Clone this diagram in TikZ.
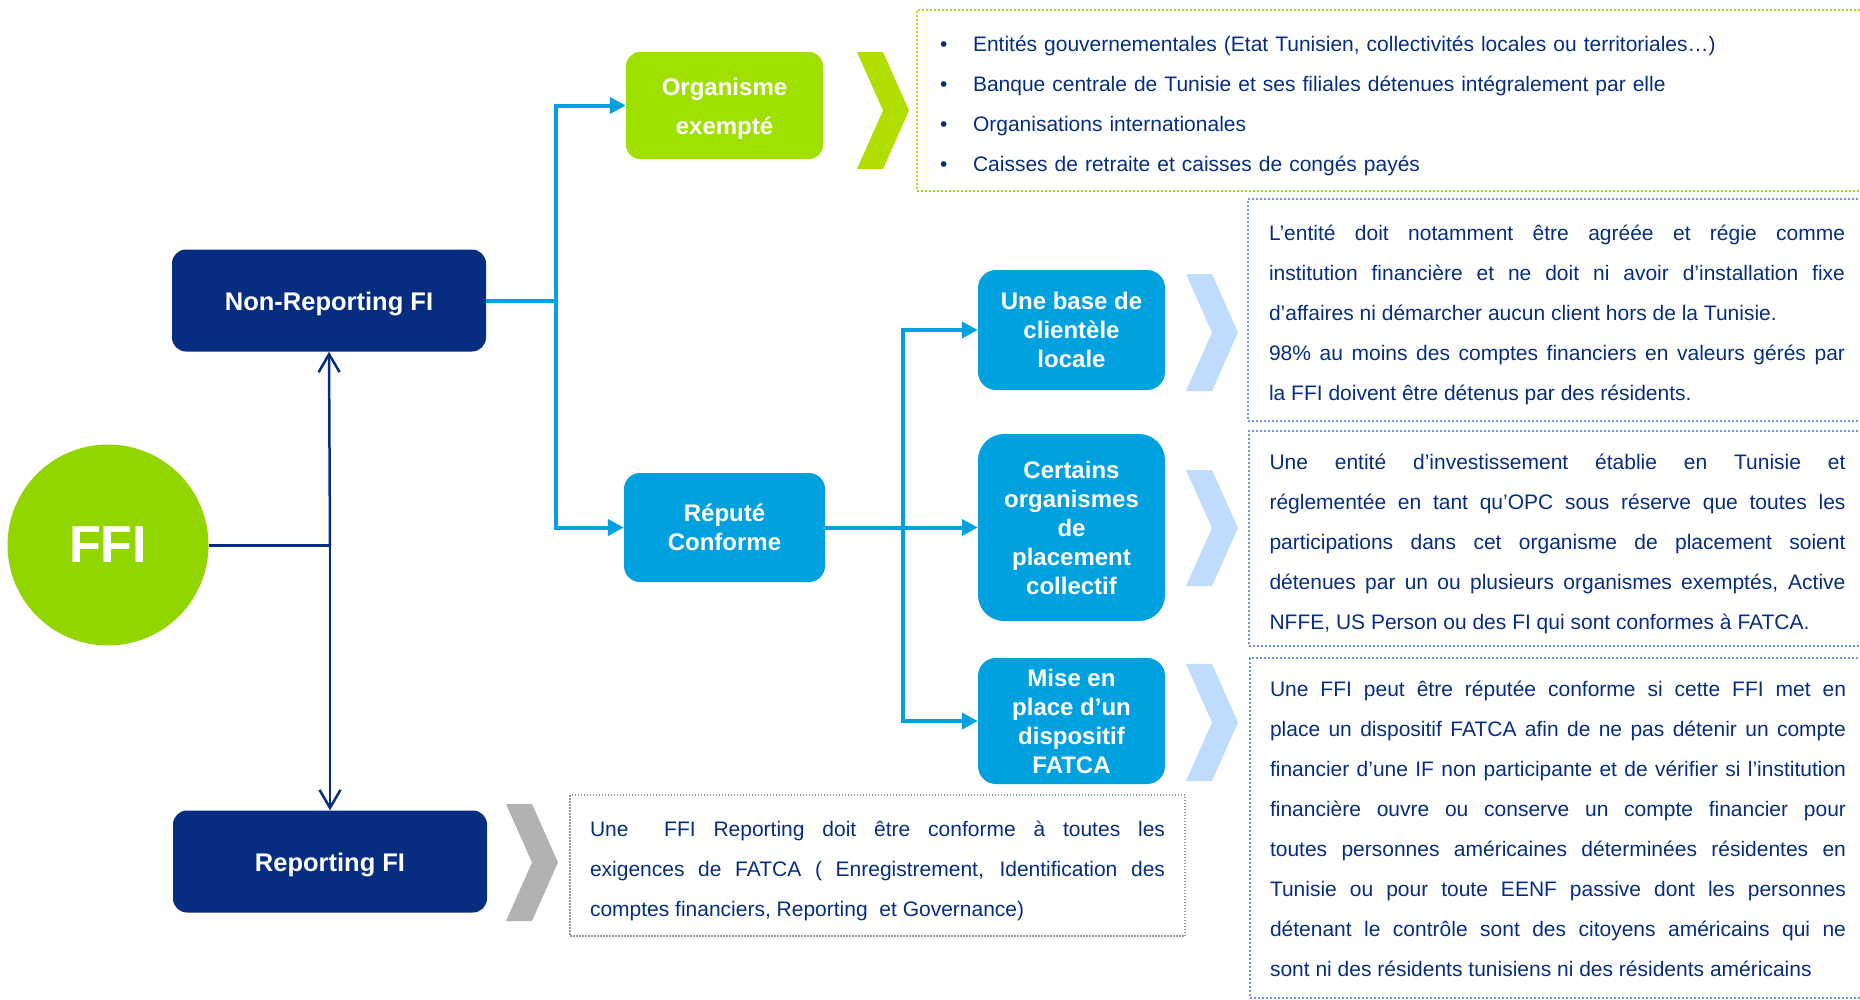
\documentclass[tikz,border=0pt]{standalone}
\usepackage{fontspec}
\setmainfont{Liberation Sans}
\usepackage{tikz}
\usetikzlibrary{arrows.meta}
\definecolor{navy}{RGB}{6,45,127}
\definecolor{ffigreen}{RGB}{146,213,0}
\definecolor{lime}{RGB}{160,224,0}
\definecolor{chevlime}{RGB}{176,222,0}
\definecolor{sky}{RGB}{0,161,222}
\definecolor{paleblue}{RGB}{191,219,254}
\definecolor{dotblue}{RGB}{102,150,238}
\tikzstyle{fi} = [rectangle, rounded corners=14pt, minimum width=314pt, minimum height=102pt, inner sep=0pt, fill=navy, text=white, font=\fontsize{25.5}{30}\selectfont\bfseries, execute at begin node={\rule{0pt}{25pt}}]
\tikzstyle{choice} = [rectangle, rounded corners=18pt, minimum width=187pt, inner sep=0pt, align=center, fill=sky, text=white, font=\fontsize{24}{29}\selectfont\bfseries]
\tikzstyle{note} = [rectangle, inner sep=0pt, text=navy, font=\fontsize{21}{40}\selectfont, align=justify, text width=576pt, execute at begin node={\rule{0pt}{26pt}}]
\tikzstyle{arrow} = [line width=4pt, sky, -{Triangle[length=16pt,width=16pt]}]
\tikzstyle{navyarrow} = [line width=2.5pt, navy, -{Straight Barb[length=18pt,width=21pt]}]
\tikzstyle{navyline} = [line width=3pt, navy]
\tikzstyle{skyline} = [line width=4pt, sky]
% chevron: left x, top y, bottom y, colour
\newcommand{\chevron}[4]{%
  \pgfmathsetmacro\chmid{(#2+#3)/2}
  \fill[#4] (#1,#2) -- (#1+26,#2) -- (#1+52,\chmid) -- (#1+26,#3) -- (#1,#3) -- (#1+26,\chmid) -- cycle;}
\hyphenpenalty=10000
\begin{document}
\begin{tikzpicture}[x=1pt, y=-1pt]
	\useasboundingbox (0,0) rectangle (1860,999);
	\clip (0,0) rectangle (1860,999);
	% left part
	\node (ffi) [circle, minimum size=201pt, inner sep=0pt, fill=ffigreen, text=white, font=\fontsize{52}{52}\selectfont\bfseries] at (108,545) {FFI};
	\node (nonrep) [fi] at (329,300.5) {Non-Reporting FI};
	\node (rep) [fi] at (330,861.5) {Reporting FI};
	\node (exempt) [choice, minimum width=197pt, minimum height=107pt, rounded corners=14pt, fill=lime, font=\fontsize{24}{39}\selectfont\bfseries] at (724.5,105.5) {\rule{0pt}{24pt}Organisme\\exempté};
	\node (repute) [choice, minimum width=201pt, minimum height=109pt, rounded corners=16pt] at (724.5,527.5) {Réputé\\Conforme};
	% deemed-compliant cases
	\node (locale) [choice, minimum height=120pt] at (1071.5,330) {Une base de\\clientèle\\locale};
	\node (opc) [choice, minimum height=187pt, rounded corners=26pt] at (1071.5,527.5) {Certains\\organismes\\de\\placement\\collectif};
	\node (fatca) [choice, minimum height=126pt] at (1071.5,721) {Mise en\\place d’un\\dispositif\\FATCA};
	% chevrons
	\chevron{857}{52}{169}{chevlime}
	\chevron{1186}{274}{391}{paleblue}
	\chevron{1186}{470}{586}{paleblue}
	\chevron{1186}{664}{781}{paleblue}
	\chevron{506}{804}{921}{black!30}
	% explanations
	\node (exlist) [note, draw=lime, line width=2pt, dash pattern=on 2pt off 2pt, minimum width=949pt, minimum height=181pt, text width=903pt, align=left] at (1391.5,100.5) {%
		\makebox[33pt][l]{•}Entités gouvernementales (Etat Tunisien, collectivités locales ou territoriales…)\\
		\makebox[33pt][l]{•}Banque centrale de Tunisie et ses filiales détenues intégralement par elle\\
		\makebox[33pt][l]{•}Organisations internationales\\
		\makebox[33pt][l]{•}Caisses de retraite et caisses de congés payés};
	\node (localetxt) [note, draw=dotblue, line width=2pt, dash pattern=on 2pt off 2pt, minimum width=618pt, minimum height=222pt] at (1557,310) {%
		L’entité doit notamment être agréée et régie comme\linebreak
		institution financière et ne doit ni avoir d’installation fixe\linebreak
		d’affaires ni démarcher aucun client hors de la Tunisie.\par
		98\% au moins des comptes financiers en valeurs gérés par\linebreak
		la FFI doivent être détenus par des résidents.};
	\node (opctxt) [note, draw=dotblue, line width=2pt, dash pattern=on 2pt off 2pt, minimum width=617pt, minimum height=215pt] at (1557.5,538.5) {%
		Une entité d’investissement établie en Tunisie et\linebreak
		réglementée en tant qu’OPC sous réserve que toutes les\linebreak
		participations dans cet organisme de placement soient\linebreak
		détenues par un ou plusieurs organismes exemptés, Active\linebreak
		NFFE, US Person ou des FI qui sont conformes à FATCA.};
	\node (fatcatxt) [note, draw=dotblue, line width=2pt, dash pattern=on 2pt off 2pt, minimum width=616pt, minimum height=340pt] at (1558,828) {%
		Une FFI peut être réputée conforme si cette FFI met en\linebreak
		place un dispositif FATCA afin de ne pas détenir un compte\linebreak
		financier d’une IF non participante et de vérifier si l’institution\linebreak
		financière ouvre ou conserve un compte financier pour\linebreak
		toutes personnes américaines déterminées résidentes en\linebreak
		Tunisie ou pour toute EENF passive dont les personnes\linebreak
		détenant le contrôle sont des citoyens américains qui ne\linebreak
		sont ni des résidents tunisiens ni des résidents américains\rule[-10pt]{0pt}{10pt}};
	\node (reptxt) [note, draw=black!40, line width=1.5pt, dash pattern=on 1.5pt off 1.5pt, minimum width=615pt, minimum height=141pt, text width=575pt] at (877.5,865.5) {%
		Une\ \ FFI Reporting doit être conforme à toutes les\linebreak
		exigences de FATCA ( Enregistrement, Identification des\linebreak
		comptes financiers, Reporting\ \ et Governance)};
	% connectors
	\coordinate (split) at (330,545);
	\coordinate (fork) at (556,300.5);
	\coordinate (fork2) at (903,527.5);
	\draw [navyline] (ffi.east) -- (split);
	\draw [navyarrow] (split) -- (nonrep.south);
	\draw [navyarrow] (split) -- (rep.north);
	\draw [skyline] (nonrep.east) -- (fork);
	\draw [arrow] (fork) |- (exempt.west);
	\draw [arrow] (fork) |- (repute.west);
	\draw [skyline] (repute.east) -- (fork2);
	\draw [arrow] (fork2) |- (locale.west);
	\draw [arrow] (fork2) -- (opc.west);
	\draw [arrow] (fork2) |- (fatca.west);
\end{tikzpicture}
\end{document}
